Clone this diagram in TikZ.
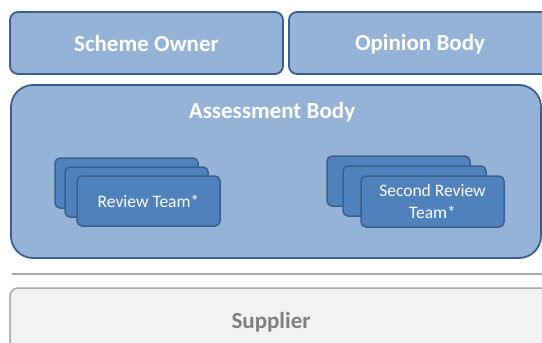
\documentclass[tikz,border=0pt]{standalone}
\usepackage{fontspec}
\setmainfont{Carlito}
\definecolor{lblue}{HTML}{95B3D7}
\definecolor{dblue}{HTML}{4F81BD}
\definecolor{bline}{HTML}{3B5F8C}
\definecolor{sfill}{HTML}{F2F2F2}
\definecolor{sline}{HTML}{A6A6A6}
\definecolor{stext}{HTML}{808080}
\tikzset{
  x=1pt,y=-1pt,
  topbox/.style={draw=bline,fill=lblue,line width=1.8pt,rounded corners=8pt},
  bigbox/.style={draw=bline,fill=lblue,line width=1.8pt,rounded corners=22pt},
  teambox/.style={draw=bline,fill=dblue,line width=1.5pt,rounded corners=5pt},
  suppbox/.style={draw=sline,fill=sfill,line width=1.5pt,rounded corners=8pt},
  head/.style={text=white,font=\fontsize{23}{27}\selectfont\bfseries},
  teamtxt/.style={text=white,font=\fontsize{17.5}{22}\selectfont,align=center},
}
\begin{document}
\begin{tikzpicture}
\useasboundingbox (0,0) rectangle (542,343);
\clip (0,0) rectangle (542,343);
% top boxes
\draw[topbox] (10,12) rectangle (283,74);
\node[head] (so) at (146.5,44) {Scheme Owner};
\draw[topbox] (289,12) rectangle (552,74);
\node[head] (ob) at (420,44) {Opinion Body};
% assessment body
\draw[bigbox] (11,85) rectangle (541,258);
\node[head] (ab) at (272,112) {Assessment Body};
% review team stack
\draw[teambox] (55,158) rectangle (198,208);
\draw[teambox] (65,167) rectangle (208,217);
\draw[teambox] (77,176) rectangle (220,226);
\node[teamtxt] (rt) at (148.5,201) {Review Team*};
% second review team stack
\draw[teambox] (327,156) rectangle (470,206);
\draw[teambox] (343,166) rectangle (486,216);
\draw[teambox] (361,176) rectangle (504,227);
\node[teamtxt] (srt) at (432.5,201) {Second Review\\Team*};
% separator
\coordinate (l1) at (12,274);
\coordinate (l2) at (545,274);
\draw[sline,line width=2.2pt] (l1) -- (l2);
% supplier
\draw[suppbox] (10,288) rectangle (552,360);
\node[text=stext,font=\fontsize{23}{27}\selectfont\bfseries] (sup) at (271,322) {Supplier};
\end{tikzpicture}
\end{document}
